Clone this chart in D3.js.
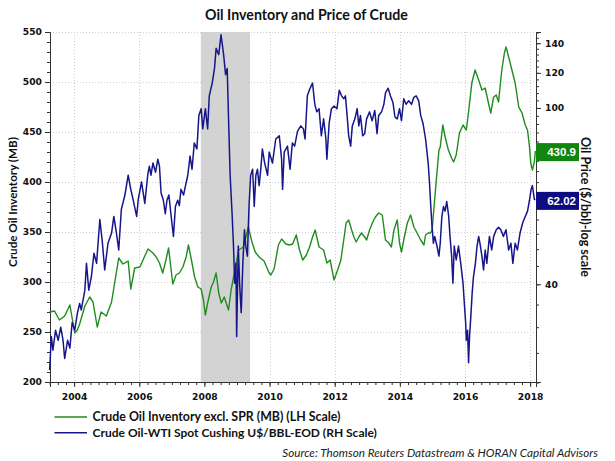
<!DOCTYPE html>
<html><head><meta charset="utf-8">
<script src="https://cdn.jsdelivr.net/npm/d3@7/dist/d3.min.js"></script>
<style>body{margin:0;background:#fff;}svg{display:block;}</style>
</head><body>
<svg id="chart" width="615" height="461"></svg>
<script>
// ---------------- DATA ----------------
const invYears = [2003.25,2003.40,2003.55,2003.71,2003.87,2004.02,2004.10,2004.17,2004.33,2004.48,2004.58,2004.71,2004.83,2004.99,2005.15,2005.25,2005.37,2005.50,2005.66,2005.74,2005.86,2006.02,2006.17,2006.27,2006.42,2006.52,2006.62,2006.72,2006.82,2006.90,2006.98,2007.03,2007.13,2007.23,2007.34,2007.44,2007.51,2007.59,2007.70,2007.80,2007.90,2007.97,2008.03,2008.10,2008.21,2008.28,2008.36,2008.44,2008.52,2008.61,2008.67,2008.74,2008.82,2008.89,2009.05,2009.20,2009.35,2009.46,2009.56,2009.68,2009.83,2009.99,2010.04,2010.14,2010.27,2010.37,2010.50,2010.61,2010.71,2010.82,2010.92,2011.02,2011.13,2011.23,2011.32,2011.40,2011.52,2011.66,2011.76,2011.86,2011.98,2012.09,2012.19,2012.29,2012.35,2012.43,2012.52,2012.59,2012.66,2012.74,2012.82,2012.92,2012.98,2013.07,2013.17,2013.25,2013.35,2013.46,2013.56,2013.66,2013.74,2013.82,2013.92,2013.99,2014.05,2014.12,2014.23,2014.33,2014.43,2014.53,2014.64,2014.74,2014.79,2014.87,2014.94,2014.99,2015.05,2015.12,2015.20,2015.24,2015.32,2015.39,2015.49,2015.59,2015.65,2015.73,2015.83,2015.94,2016.04,2016.11,2016.21,2016.31,2016.42,2016.52,2016.62,2016.72,2016.79,2016.88,2016.96,2017.03,2017.13,2017.21,2017.26,2017.34,2017.44,2017.54,2017.65,2017.75,2017.85,2017.92,2017.98,2018.02,2018.07,2018.13,2018.16];
const invValues = [270,271,262,266,277,249,252,258,276,285,280,255,270,266,280,300,324,318,321,293,314,315,326,333,329,325,319,309,322,334,312,298,307,309,315,325,337,324,305,295,293,282,267,279,295,300,309,289,279,285,279,272,292,304,332,335,355,340,330,325,321,309,307,313,337,343,338,337,338,347,332,322,327,335,345,352,335,332,319,322,302,312,322,345,359,362,352,345,340,345,349,345,342,352,360,365,369,367,342,339,335,352,362,339,330,342,359,367,355,349,342,337,347,349,349,352,375,402,432,435,457,445,432,424,420,427,449,457,452,470,499,512,502,492,494,479,469,485,487,480,512,529,535,525,512,499,475,469,457,452,435,419,412,420,431];

const wtiYears = [2003.25,2003.30,2003.35,2003.43,2003.51,2003.59,2003.66,2003.71,2003.80,2003.87,2003.94,2004.02,2004.10,2004.17,2004.22,2004.33,2004.38,2004.45,2004.53,2004.61,2004.69,2004.79,2004.86,2004.94,2005.04,2005.15,2005.22,2005.30,2005.37,2005.45,2005.56,2005.66,2005.74,2005.81,2005.92,2005.97,2006.07,2006.17,2006.26,2006.31,2006.36,2006.42,2006.50,2006.57,2006.62,2006.67,2006.74,2006.80,2006.85,2006.91,2006.98,2007.05,2007.11,2007.18,2007.23,2007.28,2007.36,2007.42,2007.49,2007.56,2007.62,2007.69,2007.77,2007.83,2007.90,2007.95,2008.03,2008.10,2008.15,2008.24,2008.31,2008.36,2008.44,2008.51,2008.59,2008.65,2008.70,2008.75,2008.79,2008.85,2008.89,2008.93,2008.97,2008.99,2009.04,2009.08,2009.13,2009.18,2009.23,2009.27,2009.32,2009.37,2009.42,2009.48,2009.53,2009.58,2009.63,2009.68,2009.73,2009.78,2009.85,2009.94,2009.99,2010.09,2010.19,2010.30,2010.37,2010.40,2010.45,2010.55,2010.63,2010.70,2010.77,2010.86,2010.96,2011.04,2011.09,2011.16,2011.24,2011.32,2011.39,2011.45,2011.52,2011.59,2011.66,2011.73,2011.76,2011.83,2011.90,2011.98,2012.07,2012.14,2012.21,2012.28,2012.33,2012.38,2012.43,2012.49,2012.54,2012.62,2012.69,2012.74,2012.79,2012.86,2012.92,2012.98,2013.07,2013.15,2013.23,2013.30,2013.35,2013.44,2013.51,2013.56,2013.64,2013.71,2013.79,2013.85,2013.92,2013.99,2014.05,2014.12,2014.19,2014.27,2014.36,2014.43,2014.50,2014.58,2014.64,2014.71,2014.79,2014.87,2014.91,2014.95,2014.99,2015.03,2015.07,2015.14,2015.20,2015.24,2015.29,2015.34,2015.39,2015.44,2015.50,2015.54,2015.59,2015.63,2015.67,2015.73,2015.80,2015.87,2015.94,2015.98,2016.02,2016.04,2016.08,2016.11,2016.14,2016.18,2016.22,2016.26,2016.32,2016.37,2016.42,2016.46,2016.52,2016.57,2016.62,2016.67,2016.75,2016.82,2016.88,2016.96,2017.03,2017.10,2017.18,2017.26,2017.34,2017.41,2017.47,2017.54,2017.61,2017.69,2017.77,2017.85,2017.92,2017.98,2018.03,2018.07,2018.13,2018.16];
const wtiValues = [25.6,30.5,28.4,31.5,29.9,32.0,29.9,27.2,29.9,28.7,32.8,31.5,34.4,36.2,35.0,38.8,44.6,38.8,41.6,47.0,44.6,56.0,50.4,43.1,49.5,52.2,56.9,52.2,47.8,59.0,63.6,70.5,65.5,62.2,56.9,62.2,68.1,60.9,70.5,73.9,70.5,75.1,71.6,76.6,73.9,64.3,61.9,57.7,61.9,63.6,56.9,51.3,59.9,61.9,60.2,65.5,63.6,66.8,70.5,77.9,72.7,83.4,80.8,96.2,99.6,89.7,99.6,89.7,106.5,113.8,122.8,136.3,131.9,146.3,131.9,118.9,122.8,89.7,70.5,57.7,49.5,40.2,44.6,30.5,48.8,40.2,34.5,44.6,53.1,48.8,46.3,59.9,70.5,72.7,59.9,70.5,72.7,66.8,72.7,80.8,75.1,70.5,79.5,75.1,85.1,86.5,76.6,65.5,79.5,82.0,72.7,83.4,82.0,88.7,91.1,89.7,85.1,106.5,110.6,113.8,101.9,98.0,99.6,86.5,94.5,85.1,76.6,92.4,99.6,101.0,99.6,109.6,106.5,104.9,106.5,96.2,86.5,82.0,91.1,94.5,99.6,91.1,96.2,86.5,87.5,94.5,98.0,93.6,98.7,87.5,96.2,98.0,101.9,108.2,110.8,106.5,102.7,95.4,94.5,99.6,93.6,104.9,101.9,103.8,101.9,105.7,106.5,103.8,96.2,92.4,85.1,75.1,67.9,59.9,53.8,49.5,51.3,48.8,46.3,49.5,56.9,59.9,58.5,61.5,56.9,51.3,46.3,40.2,48.8,45.4,48.8,44.6,40.2,36.2,32.8,29.9,31.5,26.6,30.5,33.9,38.2,41.6,44.6,48.8,51.3,49.5,46.3,43.1,47.8,44.6,51.3,47.8,51.3,53.1,53.8,53.1,51.3,53.1,47.8,49.5,44.6,49.5,47.8,52.2,55.0,56.9,58.5,61.9,65.5,66.8,62.2,62.0];

const leftTicks = [200,250,300,350,400,450,500,550];
const rightMajorTicks = [40,60,80,100,120,140];
const rightTickLabels = [40,100,120,140]; // 60 and 80 are hidden behind the value boxes
const yearTicks = [2004,2006,2008,2010,2012,2014,2016,2018];
const recession = [2007.89, 2009.40];
const lastInvLabel = "430.9";
const lastWtiLabel = "62.02";
const titleText = "Oil Inventory and Price of Crude";
const leftTitle = "Crude Oil Inventory (MB)";
const rightTitle = "Oil Price ($/bbl)-log scale";
const legendLabels = ["Crude Oil Inventory excl. SPR (MB) (LH Scale)", "Crude Oil-WTI Spot Cushing U$/BBL-EOD (RH Scale)"];
const sourceText = "Source: Thomson Reuters Datastream & HORAN Capital Advisors";

// ---------------- LAYOUT ----------------
const GREEN = "#1f8c1f", BLUE = "#16168a", GBOX = "#108510", BBOX = "#0c0c80";
const L = 50, R = 536, T = 32, B = 382;
const svg = d3.select("#chart");
const x = d3.scaleLinear().domain([2003.26, 2018.18]).range([L, R]);
const yL = d3.scaleLinear().domain([200, 550]).range([B, T]);
const yR = d3.scaleLog().domain([24.07, 148.4]).range([B, T]);

// recession band
svg.append("rect").attr("x", x(recession[0])).attr("y", T)
  .attr("width", x(recession[1]) - x(recession[0])).attr("height", B - T)
  .attr("fill", "#d3d3d3");

// gridlines
const grid = svg.append("g").attr("stroke", "#cfcfcf").attr("stroke-width", 1).attr("stroke-dasharray", "1,2");
leftTicks.filter(v => v > 200).forEach(v => {
  grid.append("line").attr("x1", L).attr("x2", R).attr("y1", Math.round(yL(v)) + 0.5).attr("y2", Math.round(yL(v)) + 0.5);
});
yearTicks.forEach(v => {
  grid.append("line").attr("x1", Math.round(x(v)) + 0.5).attr("x2", Math.round(x(v)) + 0.5).attr("y1", T).attr("y2", B);
});

// axes
const tickFont = "DejaVu Sans, sans-serif";
const leftMinor = d3.range(200, 551, 10);
const gl = svg.append("g").attr("transform", `translate(${L},0)`);
gl.call(d3.axisLeft(yL).tickValues(leftMinor).tickSize(3).tickFormat(""));
gl.append("g").call(d3.axisLeft(yL).tickValues(leftTicks).tickSize(5).tickPadding(3).tickFormat(d3.format("d")));
const gr = svg.append("g").attr("transform", `translate(${R},0)`);
gr.call(d3.axisRight(yR).tickValues(d3.range(24, 149, 4)).tickSize(3).tickFormat(""));
gr.append("g").call(d3.axisRight(yR).tickValues(rightMajorTicks).tickSize(5).tickPadding(4)
  .tickFormat(d => rightTickLabels.includes(d) ? d3.format("d")(d) : ""));
const gb = svg.append("g").attr("transform", `translate(0,${B})`);
gb.call(d3.axisBottom(x).tickValues(d3.range(2003.25, 2018.1, 0.25)).tickSize(3).tickFormat(""));
gb.append("g").call(d3.axisBottom(x).tickValues(yearTicks).tickSize(5).tickPadding(6).tickFormat(d3.format("d")));
svg.selectAll(".domain").attr("stroke", "#333");
svg.selectAll(".tick line").attr("stroke", "#333");
svg.selectAll(".tick text").attr("font-family", tickFont).attr("font-weight", "bold")
  .attr("font-size", 9.2).attr("fill", "#111");
svg.selectAll(".tick text").filter(function(){ return this.textContent === ""; }).remove();

// lines
const invData = invYears.map((t, i) => [t, invValues[i]]);
const wtiData = wtiYears.map((t, i) => [t, wtiValues[i]]);
svg.append("path").datum(invData).attr("fill", "none").attr("stroke", GREEN).attr("stroke-width", 1.4)
  .attr("stroke-linejoin", "round")
  .attr("d", d3.line().x(d => x(d[0])).y(d => yL(d[1])));
svg.append("path").datum(wtiData).attr("fill", "none").attr("stroke", BLUE).attr("stroke-width", 1.5)
  .attr("stroke-linejoin", "round")
  .attr("d", d3.line().x(d => x(d[0])).y(d => yR(d[1])));

// value boxes
function valueBox(yc, fill, label) {
  svg.append("rect").attr("x", R).attr("y", yc - 9).attr("width", 43).attr("height", 18).attr("fill", fill);
  svg.append("text").attr("x", R + 40).attr("y", yc).attr("dy", "0.36em").attr("text-anchor", "end")
    .attr("font-family", "Liberation Sans, Arial, sans-serif").attr("font-weight", "bold")
    .attr("font-size", 11.5).attr("fill", "#fff").text(label);
}
valueBox(yL(+lastInvLabel) + 1, GBOX, lastInvLabel);
valueBox(yR(+lastWtiLabel) + 1, BBOX, lastWtiLabel);

// text helper: fit to target width
const textFont = "Lato, 'Open Sans', sans-serif";
function fit(sel, w) {
  const cur = sel.node().getComputedTextLength();
  const fs = parseFloat(sel.attr("font-size"));
  sel.attr("font-size", (fs * w / cur).toFixed(2));
  return sel;
}

fit(svg.append("text").attr("x", 306.5).attr("y", 15).attr("dy", "0.35em").attr("text-anchor", "middle")
  .attr("font-family", textFont).attr("font-weight", "bold").attr("font-size", 13).attr("fill", "#111")
  .text(titleText), 203);

fit(svg.append("text").attr("transform", "translate(13,202) rotate(-90)").attr("dy", "0.35em")
  .attr("text-anchor", "middle").attr("font-family", textFont).attr("font-weight", "bold")
  .attr("font-size", 12).attr("fill", "#111").text(leftTitle), 130);

fit(svg.append("text").attr("transform", "translate(585,207) rotate(90)").attr("dy", "0.35em")
  .attr("text-anchor", "middle").attr("font-family", textFont).attr("font-weight", "bold")
  .attr("font-size", 12).attr("fill", "#111").text(rightTitle), 140);

// legend
const legY = [417, 432.8];
const legW = [248, 284.6];
[GREEN, BLUE].forEach((c, i) => {
  svg.append("line").attr("x1", 54.5).attr("x2", 87).attr("y1", legY[i]).attr("y2", legY[i])
    .attr("stroke", c).attr("stroke-width", 1.4);
  fit(svg.append("text").attr("x", 92.6).attr("y", legY[i]).attr("dy", "0.35em")
    .attr("font-family", textFont).attr("font-weight", "bold").attr("font-size", 12).attr("fill", "#111")
    .text(legendLabels[i]), legW[i]);
});

fit(svg.append("text").attr("x", 598).attr("y", 453).attr("dy", "0.35em").attr("text-anchor", "end")
  .attr("font-family", textFont).attr("font-style", "italic").attr("font-size", 11).attr("fill", "#222")
  .text(sourceText), 316);
</script>
</body></html>
